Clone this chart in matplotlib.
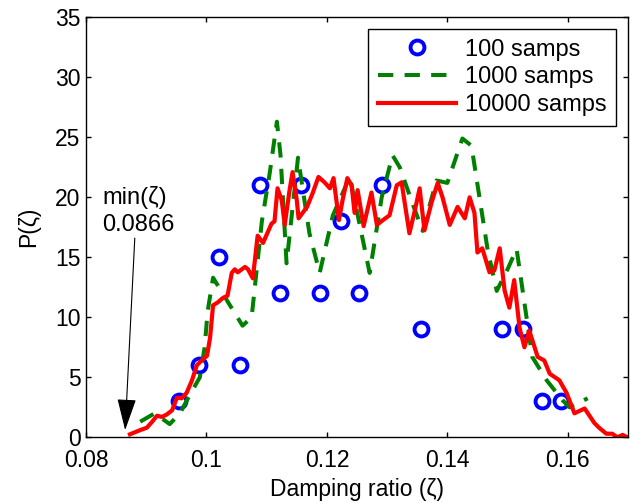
import numpy as np
import matplotlib.pyplot as plt

plt.rcParams['font.family'] = ['Liberation Sans', 'DejaVu Sans']

# 100 samples (histogram density)
x100 = [0.0954, 0.0987, 0.1021, 0.1055, 0.1089, 0.1122, 0.1157, 0.1188,
        0.1223, 0.1254, 0.1291, 0.1357, 0.1490, 0.1525, 0.1558, 0.1589]
y100 = [3, 6, 15, 6, 21, 12, 21, 12, 18, 12, 21, 9, 9, 9, 3, 3]

# 1000 samples
x1000 = [0.0890, 0.0914, 0.0939, 0.0956, 0.0972, 0.0989, 0.0997, 0.1002,
         0.1011, 0.1039, 0.1060, 0.1075, 0.1092, 0.1105, 0.1117, 0.1123,
         0.1133, 0.1152, 0.1171, 0.1188, 0.1210, 0.1238, 0.1271, 0.1291,
         0.1309, 0.1321, 0.1342, 0.1359, 0.1382, 0.1400, 0.1425, 0.1440,
         0.1467, 0.1482, 0.1500, 0.1515, 0.1541, 0.1565, 0.1591, 0.1603,
         0.1633]
y1000 = [1.3, 2.0, 1.1, 2.0, 3.5, 5.0, 7.5, 10.5, 13.3, 11.0, 9.3, 10.0,
         18.0, 22.0, 26.3, 23.5, 14.5, 23.3, 17.0, 13.7, 18.5, 21.7, 13.7,
         20.0, 23.5, 22.5, 19.5, 17.2, 21.4, 21.2, 24.9, 24.3, 15.6, 12.2,
         14.0, 15.7, 6.7, 4.75, 3.1, 2.5, 3.25]

# 10000 samples
x10000 = [0.0873, 0.0890, 0.0901, 0.0909, 0.0918, 0.0926, 0.0934, 0.0943,
          0.0951, 0.0959, 0.0967, 0.0976, 0.0984, 0.0992, 0.1001, 0.1006,
          0.1011, 0.1019, 0.1027, 0.1035, 0.1042, 0.1047, 0.1052, 0.1064,
          0.1069, 0.1077, 0.1085, 0.1094, 0.1108, 0.1113, 0.1118, 0.1125,
          0.1130, 0.1138, 0.1143, 0.1150, 0.1153, 0.1167, 0.1176, 0.1186,
          0.1196, 0.1205, 0.1211, 0.1220, 0.1226, 0.1234, 0.1241, 0.1246,
          0.1251, 0.1261, 0.1274, 0.1283, 0.1293, 0.1304, 0.1316, 0.1324,
          0.1337, 0.1346, 0.1354, 0.1362, 0.1374, 0.1384, 0.1392, 0.1404,
          0.1417, 0.1429, 0.1437, 0.1445, 0.1450, 0.1458, 0.1470, 0.1478,
          0.1487, 0.1495, 0.1503, 0.1511, 0.1520, 0.1528, 0.1536, 0.1550,
          0.1561, 0.1570, 0.1586, 0.1598, 0.1611, 0.1628, 0.1644, 0.1652,
          0.1664, 0.1674, 0.1682, 0.1691, 0.1699]
y10000 = [0.25, 0.6, 0.8, 1.25, 1.8, 1.7, 1.9, 2.25, 3.3, 3.25, 3.7, 4.75,
          6.0, 6.4, 6.8, 8.3, 11.0, 11.25, 11.6, 11.8, 13.7, 14.0, 13.75,
          14.2, 14.0, 13.25, 16.8, 16.2, 17.8, 18.0, 20.75, 19.75, 17.7,
          20.6, 22.1, 19.75, 18.25, 19.2, 20.3, 21.7, 21.25, 20.75, 21.6,
          18.1, 19.75, 21.6, 21.0, 18.7, 20.6, 17.6, 20.4, 17.7, 18.1, 18.5,
          21.0, 21.25, 17.0, 18.9, 20.75, 17.25, 19.6, 21.2, 20.0, 17.7,
          19.2, 18.25, 20.0, 18.7, 15.4, 15.75, 13.75, 13.9, 15.75, 12.25,
          10.8, 13.1, 9.1, 7.5, 8.9, 6.7, 6.4, 5.3, 4.75, 3.7, 2.0, 2.4, 1.2,
          0.8, 0.3, 0.3, 0.0, 0.2, 0.0]

fig = plt.figure(figsize=(6.39, 5.03), dpi=100)
ax = fig.add_axes([0.1346, 0.1306, 0.8482, 0.835])

ax.plot(x100, y100, 'o', color='blue', mfc='none', mew=2.8, ms=10, label='100 samps')
ax.plot(x1000, y1000, '--', color='green', lw=2.9, dashes=(3.8, 2.8), label='1000 samps')
ax.plot(x10000, y10000, '-', color='red', lw=3, label='10000 samps')

ax.annotate('', xy=(0.0865, 0.6), xytext=(0.0881, 16.6),
            arrowprops=dict(arrowstyle='-|>,head_width=0.6,head_length=2.0',
                            color='black', lw=0.8, shrinkA=0, shrinkB=0))
ax.text(0.0827, 16.8, 'min(ζ)\n0.0866', fontsize=17, ha='left', va='bottom',
        linespacing=1.25)

ax.set_xlim(0.08, 0.17)
ax.set_ylim(0, 35)
ax.set_xticks([0.08, 0.1, 0.12, 0.14, 0.16])
ax.set_xticklabels(['0.08', '0.1', '0.12', '0.14', '0.16'])
ax.set_yticks(range(0, 36, 5))
ax.tick_params(direction='in', top=True, right=True, labelsize=16.5, length=3.5, width=1)
ax.tick_params(axis='x', pad=8.5)
ax.tick_params(axis='y', pad=4)
ax.set_xlabel('Damping ratio (ζ)', fontsize=16.5, labelpad=4)
ax.set_ylabel('P(ζ)', fontsize=16.5, labelpad=11)
for s in ax.spines.values():
    s.set_linewidth(1)

leg = ax.legend(loc='upper right', fontsize=17, fancybox=False, framealpha=1,
                edgecolor='black', handlelength=3.3, borderpad=0.4,
                labelspacing=0.25, handletextpad=0.4, borderaxespad=0.5)
leg.get_frame().set_linewidth(1)

fig.savefig('out.png', dpi=100)
